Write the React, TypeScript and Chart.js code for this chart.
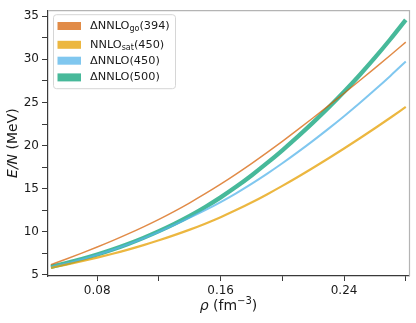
import React, { useEffect, useRef } from 'react';
import { Chart, registerables } from 'chart.js';

Chart.register(...registerables);

// Density values (fm^-3)
const rho = [0.05, 0.06, 0.07, 0.08, 0.09, 0.10, 0.11, 0.12, 0.13, 0.14, 0.15, 0.16, 0.17, 0.18, 0.19, 0.20, 0.21, 0.22, 0.23, 0.24, 0.25, 0.26, 0.27, 0.28];

// E/N (MeV) per interaction
const deltaNNLOgo394 = [6.2, 6.85, 7.53, 8.24, 8.98, 9.76, 10.58, 11.45, 12.38, 13.37, 14.42, 15.53, 16.7, 17.92, 19.19, 20.5, 21.85, 23.23, 24.64, 26.07, 27.52, 28.99, 30.48, 31.99];
const nnloSat450 = [5.83, 6.2, 6.59, 7.01, 7.46, 7.94, 8.46, 9.02, 9.62, 10.26, 10.95, 11.7, 12.52, 13.4, 14.34, 15.33, 16.36, 17.43, 18.53, 19.66, 20.82, 22.01, 23.23, 24.48];
const deltaNNLO450 = [5.9, 6.34, 6.81, 7.33, 7.91, 8.55, 9.25, 10.0, 10.8, 11.64, 12.52, 13.46, 14.47, 15.56, 16.72, 17.95, 19.24, 20.58, 21.97, 23.41, 24.91, 26.47, 28.08, 29.75];
const deltaNNLO500 = [5.94, 6.38, 6.85, 7.37, 7.95, 8.59, 9.3, 10.08, 10.93, 11.86, 12.88, 14.0, 15.22, 16.54, 17.96, 19.46, 21.04, 22.69, 24.42, 26.24, 28.16, 30.19, 32.33, 34.58];

// Legend text pieces: main, subscript, tail
const legendMain = ['ΔNNLO', 'NNLO', 'ΔNNLO', 'ΔNNLO'];
const legendSub = ['go', 'sat', '', ''];
const legendTail = ['(394)', '(450)', '(450)', '(500)'];

// Ticks
const xTickValues = [0.08, 0.12, 0.16, 0.20, 0.24, 0.28];
const xTickLabels = ['0.08', '', '0.16', '', '0.24', ''];
const yTickValues = [5, 7.5, 10, 12.5, 15, 17.5, 20, 22.5, 25, 27.5, 30, 32.5, 35];
const yTickLabels = ['5', '', '10', '', '15', '', '20', '', '25', '', '30', '', '35'];

const colors = [
  'rgba(213, 94, 0, 0.72)',
  'rgba(230, 159, 0, 0.75)',
  'rgba(86, 180, 233, 0.75)',
  'rgba(0, 158, 115, 0.72)',
];
const widths = [1.5, 2.2, 2.0, 4.3];
const series = [deltaNNLOgo394, nnloSat450, deltaNNLO450, deltaNNLO500];

const FONT = "'DejaVu Sans', sans-serif";

const decorPlugin = {
  id: 'decor',
  afterDraw(chart: any) {
    const ctx = chart.ctx as CanvasRenderingContext2D;
    const { left, top, right, bottom } = chart.chartArea;
    ctx.save();
    // top and right spines (light grey)
    ctx.strokeStyle = '#b4b4b4';
    ctx.lineWidth = 1.2;
    ctx.beginPath();
    ctx.moveTo(left, top + 0.5);
    ctx.lineTo(right + 0.5, top + 0.5);
    ctx.lineTo(right + 0.5, bottom);
    ctx.stroke();

    // legend
    const bx = left + 5.5;
    const by = top + 4.5;
    const bw = 122;
    const bh = 74;
    const r = 3;
    ctx.beginPath();
    ctx.moveTo(bx + r, by);
    ctx.lineTo(bx + bw - r, by);
    ctx.arcTo(bx + bw, by, bx + bw, by + r, r);
    ctx.lineTo(bx + bw, by + bh - r);
    ctx.arcTo(bx + bw, by + bh, bx + bw - r, by + bh, r);
    ctx.lineTo(bx + r, by + bh);
    ctx.arcTo(bx, by + bh, bx, by + bh - r, r);
    ctx.lineTo(bx, by + r);
    ctx.arcTo(bx, by, bx + r, by, r);
    ctx.closePath();
    ctx.fillStyle = 'rgba(255,255,255,0.85)';
    ctx.fill();
    ctx.strokeStyle = '#d6d6d6';
    ctx.lineWidth = 1;
    ctx.stroke();

    const rowOffsets = [15.8, 34.6, 50.5, 67.2];
    ctx.textBaseline = 'middle';
    ctx.textAlign = 'left';
    for (let i = 0; i < legendMain.length; i++) {
      const cy = top + rowOffsets[i];
      ctx.fillStyle = colors[i];
      ctx.fillRect(left + 9.5, cy - 4, 23.5, 8);
      let tx = left + 42;
      ctx.fillStyle = '#1a1a1a';
      ctx.font = `11.3px ${FONT}`;
      ctx.fillText(legendMain[i], tx, cy);
      tx += ctx.measureText(legendMain[i]).width;
      if (legendSub[i]) {
        ctx.font = `8px ${FONT}`;
        ctx.fillText(legendSub[i], tx, cy + 3);
        tx += ctx.measureText(legendSub[i]).width;
      }
      ctx.font = `11.3px ${FONT}`;
      ctx.fillText(legendTail[i], tx, cy);
    }

    // y title: E/N (MeV)
    ctx.fillStyle = '#1a1a1a';
    ctx.save();
    ctx.translate(13, (top + bottom) / 2);
    ctx.rotate(-Math.PI / 2);
    ctx.font = `italic 14px ${FONT}`;
    const w1 = ctx.measureText('E/N').width;
    ctx.font = `14px ${FONT}`;
    const w2 = ctx.measureText(' (MeV)').width;
    const sx = -(w1 + w2) / 2;
    ctx.font = `italic 14px ${FONT}`;
    ctx.fillText('E/N', sx, 0);
    ctx.font = `14px ${FONT}`;
    ctx.fillText(' (MeV)', sx + w1, 0);
    ctx.restore();

    // x title: ρ (fm^-3)
    const ty = 306;
    ctx.font = `italic 14px ${FONT}`;
    const a = ctx.measureText('ρ').width;
    ctx.font = `14px ${FONT}`;
    const b = ctx.measureText(' (fm').width;
    const d = ctx.measureText(')').width;
    ctx.font = `10px ${FONT}`;
    const c = ctx.measureText('−3').width;
    let x0 = (left + right) / 2 - (a + b + c + d) / 2;
    ctx.font = `italic 14px ${FONT}`;
    ctx.fillText('ρ', x0, ty);
    x0 += a;
    ctx.font = `14px ${FONT}`;
    ctx.fillText(' (fm', x0, ty);
    x0 += b;
    ctx.font = `10px ${FONT}`;
    ctx.fillText('−3', x0, ty - 5);
    x0 += c;
    ctx.font = `14px ${FONT}`;
    ctx.fillText(')', x0, ty);
    ctx.restore();
  },
};

export default function App() {
  const ref = useRef<HTMLCanvasElement | null>(null);

  useEffect(() => {
    if (!ref.current) return;
    const datasets = series.map((s, i) => ({
      label: legendMain[i] + legendSub[i] + legendTail[i],
      data: s.map((y, j) => ({ x: rho[j], y })),
      borderColor: colors[i],
      backgroundColor: colors[i],
      borderWidth: widths[i],
      pointRadius: 0,
      cubicInterpolationMode: 'monotone' as const,
      fill: false,
    }));

    const chart = new Chart(ref.current, {
      type: 'line',
      data: { datasets },
      options: {
        animation: false,
        responsive: false,
        devicePixelRatio: 1,
        layout: { padding: { top: 6, right: 7, left: 0, bottom: 0 } },
        plugins: {
          legend: { display: false },
          tooltip: { enabled: false },
        },
        scales: {
          x: {
            type: 'linear',
            min: 0.0481,
            max: 0.2821,
            afterBuildTicks: (scale: any) => {
              scale.ticks = xTickValues.map((v) => ({ value: v }));
            },
            afterFit: (scale: any) => {
              scale.height = 47;
            },
            ticks: {
              autoSkip: false,
              maxRotation: 0,
              padding: 3,
              color: '#1a1a1a',
              font: { family: FONT, size: 12 },
              callback: (_v: any, i: number) => xTickLabels[i],
            },
            grid: {
              drawOnChartArea: false,
              drawTicks: true,
              tickLength: 5,
              color: '#3a3a3a',
              lineWidth: 1,
            },
            border: { display: true, color: '#3a3a3a', width: 1.2 },
          },
          y: {
            type: 'linear',
            min: 4.88,
            max: 35.7,
            afterBuildTicks: (scale: any) => {
              scale.ticks = yTickValues.map((v) => ({ value: v }));
            },
            afterFit: (scale: any) => {
              scale.width = 48;
            },
            ticks: {
              autoSkip: false,
              padding: 3,
              color: '#1a1a1a',
              font: { family: FONT, size: 12 },
              callback: (_v: any, i: number) => yTickLabels[i],
            },
            grid: {
              drawOnChartArea: false,
              drawTicks: true,
              tickLength: 6,
              color: '#3a3a3a',
              lineWidth: 1,
            },
            border: { display: true, color: '#3a3a3a', width: 1.2 },
          },
        },
      },
      plugins: [decorPlugin],
    });
    return () => chart.destroy();
  }, []);

  return (
    <div style={{ position: 'fixed', left: 0, top: 0, width: 416, height: 323, background: '#fff' }}>
      <canvas ref={ref} width={416} height={323} style={{ width: 416, height: 323, display: 'block' }} />
    </div>
  );
}
